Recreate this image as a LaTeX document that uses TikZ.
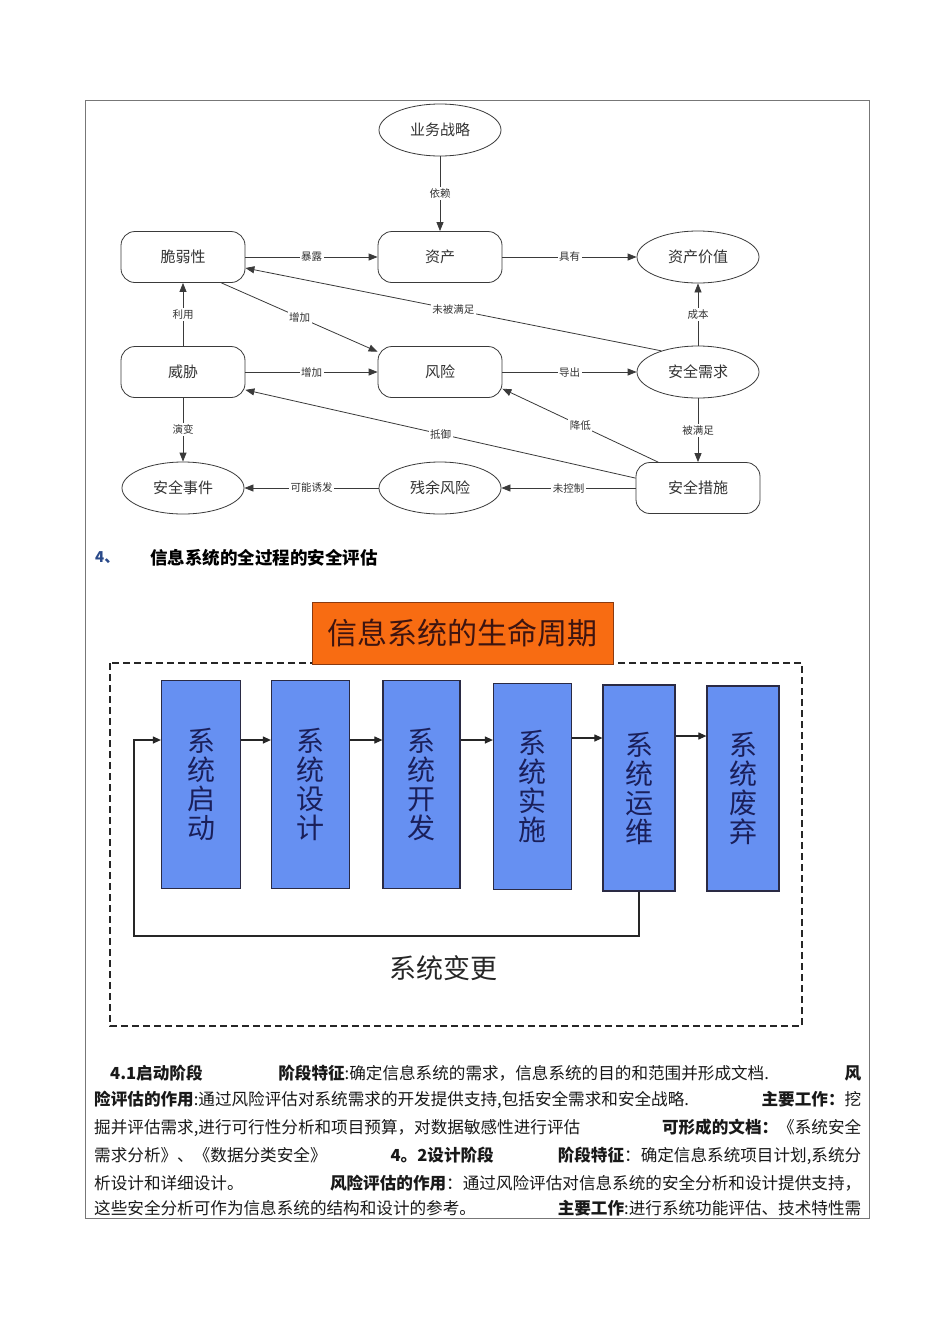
\documentclass[tikz,border=0pt]{standalone}
\usepackage{fontspec}
\setmainfont{Noto Sans CJK SC}
\usetikzlibrary{arrows.meta,shapes.geometric,calc}
\definecolor{edgecol}{HTML}{3A3A3A}
\definecolor{nodetxt}{HTML}{333333}
\definecolor{lcblue}{HTML}{6690F2}
\definecolor{lcborder}{HTML}{2A2A44}
\definecolor{lctext}{HTML}{1A1F5A}
\definecolor{orangefill}{HTML}{F86C12}
\definecolor{orangeborder}{HTML}{8A3A10}
\definecolor{titletxt}{HTML}{3D1410}
\definecolor{headblue}{HTML}{2A4A8A}
\definecolor{framecol}{HTML}{777777}
\newcommand\bd[1]{{\bfseries #1}}
\begin{document}
\begin{tikzpicture}[x=1pt,y=-1pt,
  rbox/.style={draw=edgecol, line width=0.8pt, rounded corners=14pt, minimum width=124pt, minimum height=51pt, inner sep=0pt, text=nodetxt, font=\fontsize{15}{15}\selectfont},
  ell/.style={ellipse, draw=edgecol, line width=0.8pt, minimum width=122pt, minimum height=52pt, inner sep=0pt, text=nodetxt, font=\fontsize{15}{15}\selectfont},
  edge/.style={draw=edgecol, line width=0.8pt, -{Triangle[length=9pt,width=7pt]}},
  lab/.style={fill=white, inner sep=1.5pt, text=nodetxt, font=\fontsize{10.5}{10.5}\selectfont},
  lcbox/.style={draw=lcborder, fill=lcblue, line width=1.2pt, inner sep=0pt, text=lctext, align=center, font=\fontsize{28}{29}\selectfont},
  lcarrow/.style={draw=black!85, line width=1.1pt, -{Triangle[length=8pt,width=7pt]}},
  bodyline/.style={anchor=west, inner sep=0pt, text=black!90, font=\fontsize{16.6}{16.6}\selectfont}
]
\useasboundingbox[fill=white] (0,0) rectangle (950,1344);
% outer frame
\draw[framecol, line width=1pt] (85,100) rectangle (869,1218);

% ---------- top risk diagram ----------
\node[ell]  (bs) at (440,130) {业务战略};
\node[rbox] (v)  at (183,257) {脆弱性};
\node[rbox] (as) at (440,257) {资产};
\node[ell]  (av) at (698,257) {资产价值};
\node[rbox] (t)  at (183,372) {威胁};
\node[rbox] (r)  at (440,372) {风险};
\node[ell]  (sn) at (698,372) {安全需求};
\node[ell]  (se) at (183,488) {安全事件};
\node[ell]  (rr) at (440,488) {残余风险};
\node[rbox] (sm) at (698,488) {安全措施};

\draw[edge] (bs) -- node[lab] {依赖} (as);
\draw[edge] (v) -- node[lab] {暴露} (as);
\draw[edge] (as) -- node[lab] {具有} (av);
\draw[edge] (sn.150) -- node[lab] {未被满足} (v.-10);
\draw[edge] (v.-34) -- node[lab] {增加} (r.162);
\draw[edge] (t) -- node[lab] {利用} (v);
\draw[edge] (t) -- node[lab] {增加} (r);
\draw[edge] (r) -- node[lab] {导出} (sn);
\draw[edge] (sn) -- node[lab] {成本} (av);
\draw[edge] (sn) -- node[lab] {被满足} (sm);
\draw[edge] (sm.147) -- node[lab] {降低} (r.-15);
\draw[edge] (sm.171) -- node[lab] {抵御} (t.-16);
\draw[edge] (t) -- node[lab] {演变} (se);
\draw[edge] (rr) -- node[lab] {可能诱发} (se);
\draw[edge] (sm) -- node[lab] {未控制} (rr);

% ---------- heading ----------
\node[anchor=west, inner sep=0pt, text=headblue, font=\fontsize{15}{15}\selectfont\bfseries] (h4) at (95,558) {4、};
\node[anchor=west, inner sep=0pt, font=\fontsize{17.5}{17.5}\selectfont\bfseries] (ht) at (150,558) {信息系统的全过程的安全评估};

% ---------- lifecycle ----------
\draw[black!85, line width=1.3pt, dash pattern=on 7pt off 4pt] (110,663) rectangle (802,1026);
\node[draw=orangeborder, fill=orangefill, line width=0.8pt, minimum width=301pt, minimum height=62pt, inner sep=0pt, text=titletxt, font=\fontsize{30}{30}\selectfont] (title) at (462.5,633) {信息系统的生命周期};

\node[lcbox, minimum width=79pt, minimum height=208pt] (b1) at (201,784.5) {系\\统\\启\\动};
\node[lcbox, minimum width=78pt, minimum height=208pt] (b2) at (310.5,784.5) {系\\统\\设\\计};
\node[lcbox, minimum width=77pt, minimum height=208pt] (b3) at (421.5,784.5) {系\\统\\开\\发};
\node[lcbox, minimum width=78pt, minimum height=206pt] (b4) at (532.5,786.5) {系\\统\\实\\施};
\node[lcbox, minimum width=72pt, minimum height=206pt] (b5) at (639,788) {系\\统\\运\\维};
\node[lcbox, minimum width=72pt, minimum height=205pt] (b6) at (743,788.5) {系\\统\\废\\弃};

\draw[lcarrow] ([yshift=44.5pt]b1.east) -- ([yshift=44.5pt]b1.east -| b2.west);
\draw[lcarrow] ([yshift=44.5pt]b2.east) -- ([yshift=44.5pt]b2.east -| b3.west);
\draw[lcarrow] ([yshift=44.5pt]b3.east) -- ([yshift=44.5pt]b3.east -| b4.west);
\draw[lcarrow] ([yshift=48.5pt]b4.east) -- ([yshift=48.5pt]b4.east -| b5.west);
\draw[lcarrow] ([yshift=52pt]b5.east) -- ([yshift=52pt]b5.east -| b6.west);
\coordinate (fbl) at (134,936);
\draw[lcarrow] (b5.south) |- (fbl) |- ([yshift=44.5pt]b1.west);
\node[inner sep=0pt, text=black!85, font=\fontsize{27}{27}\selectfont] (chg) at (443,968) {系统变更};

% ---------- body text ----------
\node[bodyline] (l1) at (110,1073) {\makebox[751pt][l]{\bd{4.1启动阶段}\hfill\bd{阶段特征}:确定信息系统的需求，信息系统的目的和范围并形成文档.\hfill\bd{风}}};
\node[bodyline] (l2) at (94,1100) {\makebox[767pt][l]{\bd{险评估的作用}:通过风险评估对系统需求的开发提供支持,包括安全需求和安全战略.\hfill\bd{主要工作：}挖}};
\node[bodyline] (l3) at (94,1128) {\makebox[767pt][l]{掘并评估需求,进行可行性分析和项目预算，对数据敏感性进行评估\hfill\bd{可形成的文档：}《系统安全}};
\node[bodyline] (l4) at (94,1156) {\makebox[767pt][l]{需求分析》、《数据分类安全》\hfill\bd{4。2设计阶段}\hfill\bd{阶段特征}：确定信息系统项目计划,系统分}};
\node[bodyline] (l5) at (94,1183) {\makebox[767pt][l]{析设计和详细设计。\hfill\bd{风险评估的作用}：通过风险评估对信息系统的安全分析和设计提供支持，}};
\node[bodyline] (l6) at (94,1208) {\makebox[767pt][l]{这些安全分析可作为信息系统的结构和设计的参考。\hfill\bd{主要工作}:进行系统功能评估、技术特性需}};
\end{tikzpicture}
\end{document}
